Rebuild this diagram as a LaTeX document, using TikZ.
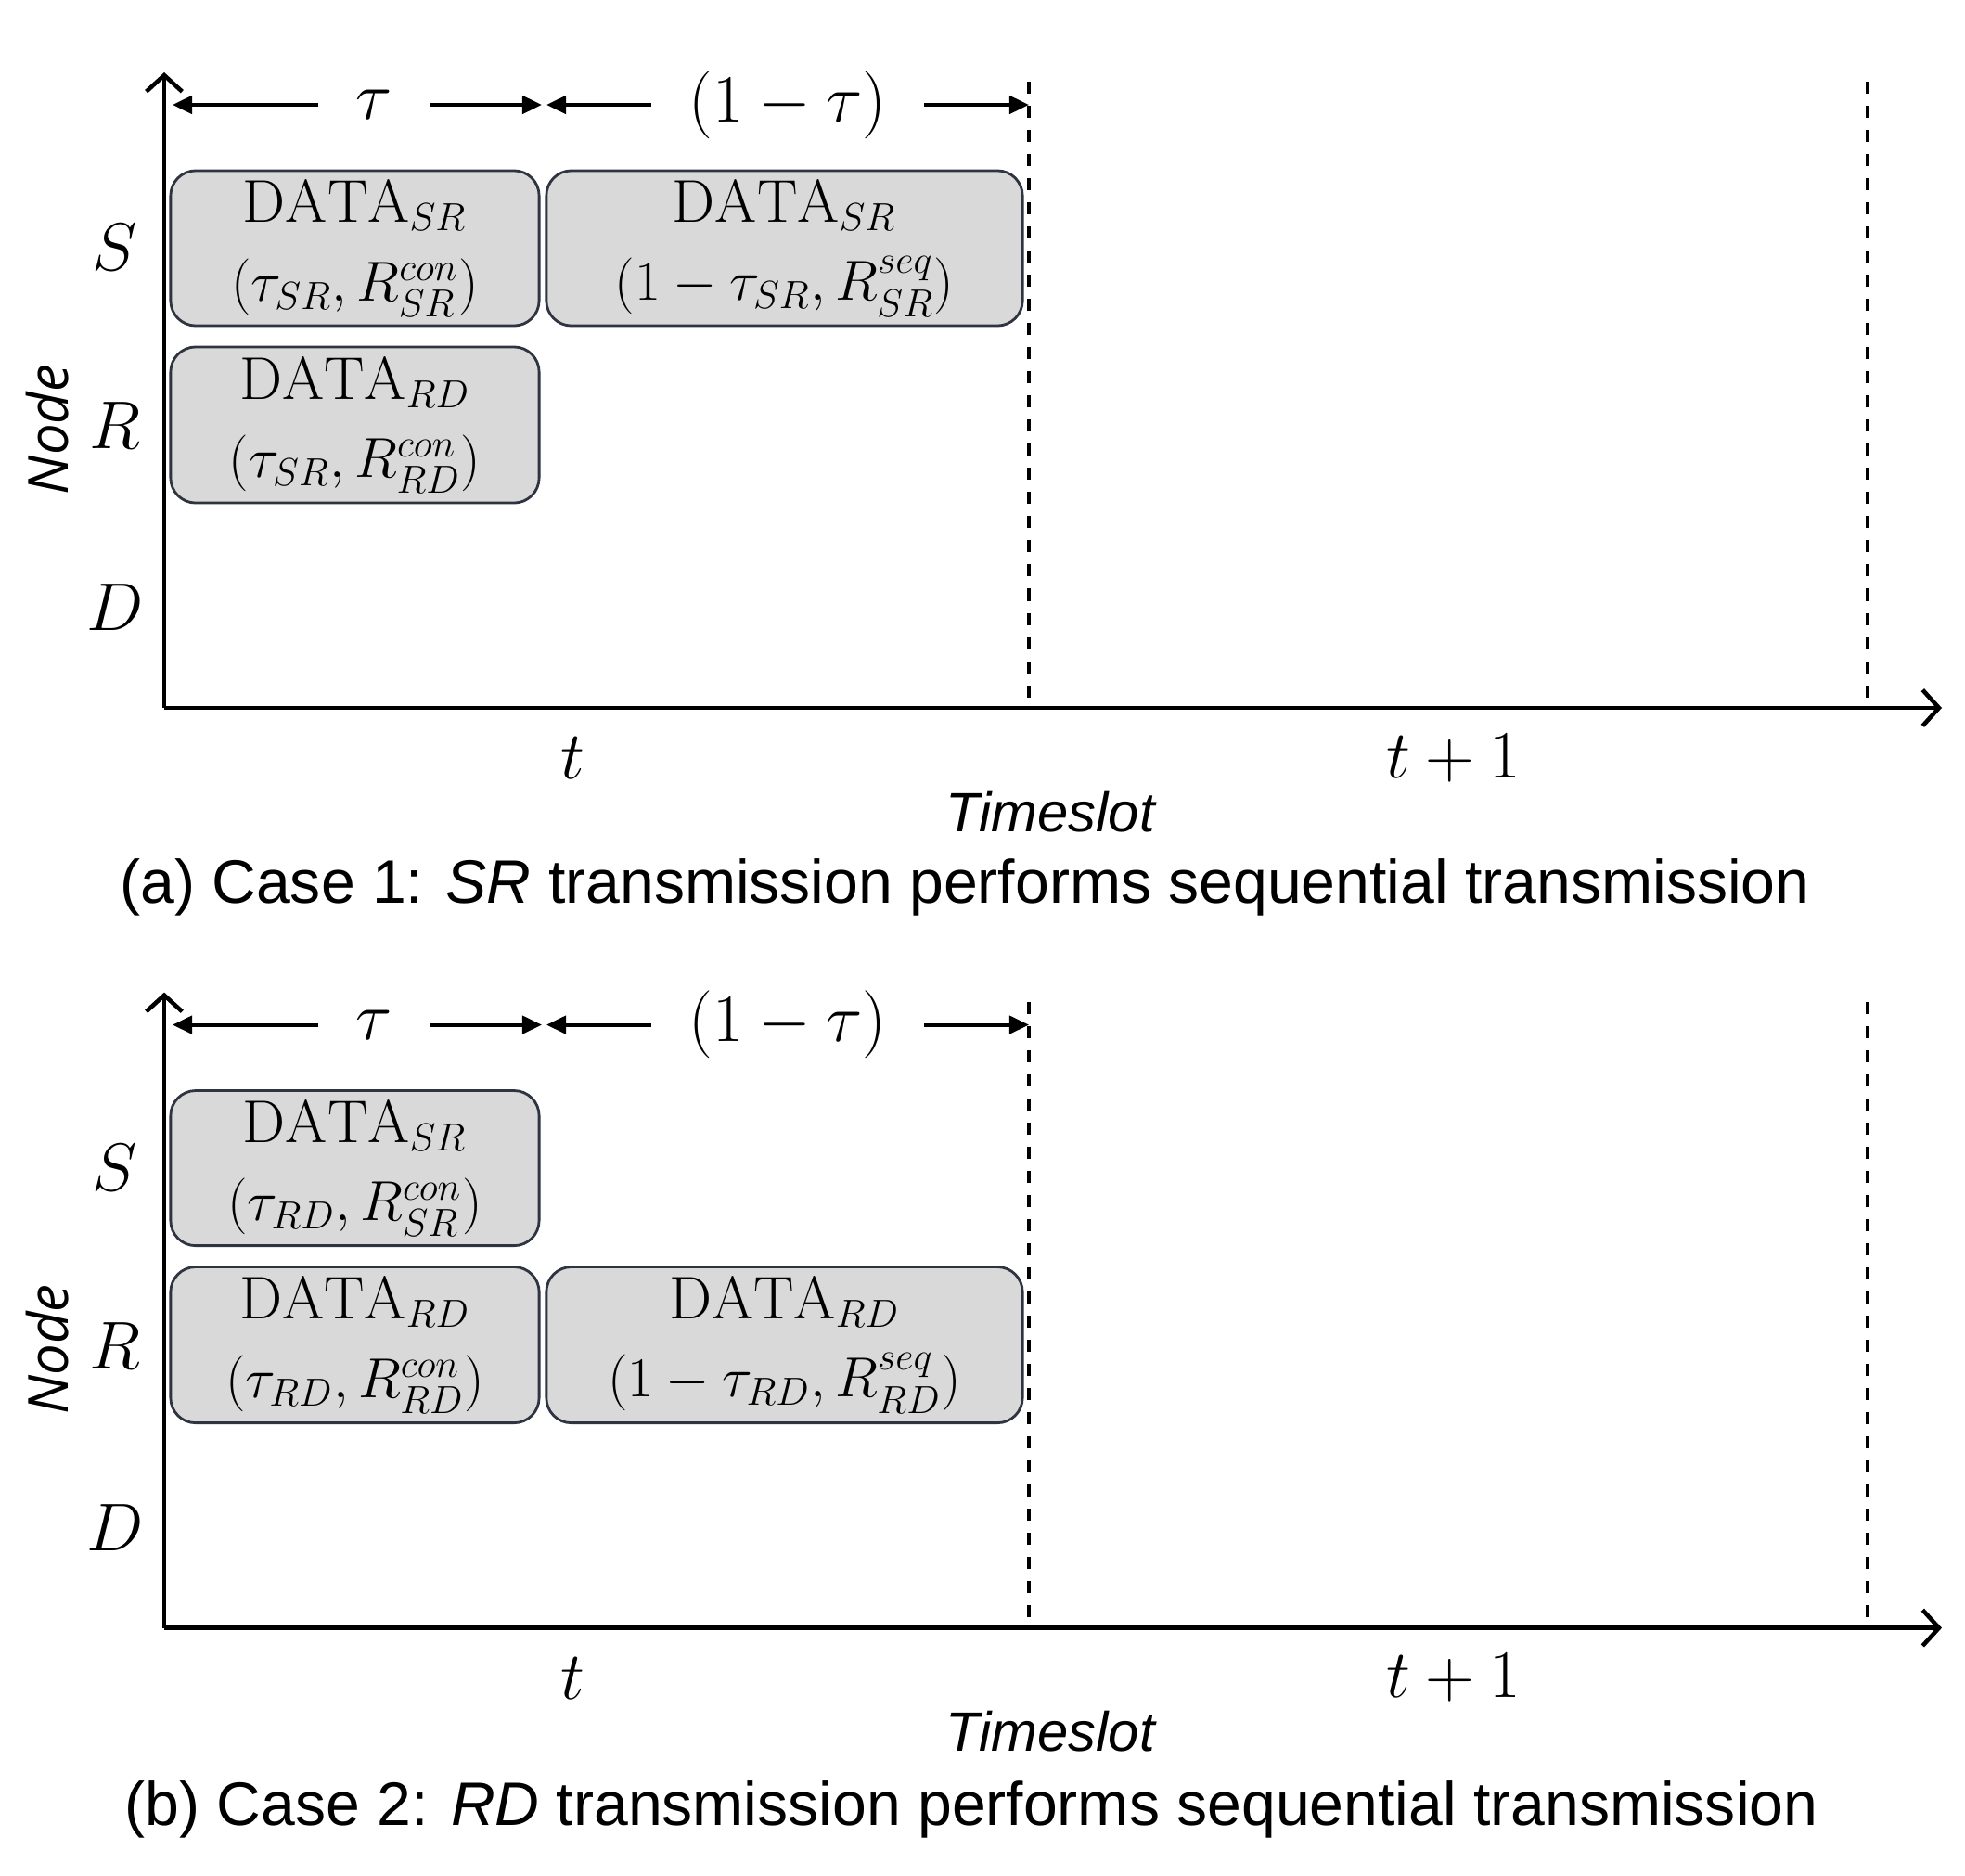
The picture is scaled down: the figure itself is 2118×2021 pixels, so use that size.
\documentclass[tikz,border=0pt]{standalone}
\usepackage{amsmath, amssymb}
\usepackage{fontspec}
\newfontfamily\capfont{Liberation Sans}
\newfontfamily\axfont{Open Sans}
\usepackage{tikz}
\usetikzlibrary{arrows.meta, positioning}
\definecolor{boxgray}{HTML}{D9D9D9}
\definecolor{boxedge}{HTML}{2E3440}

\begin{document}
\begin{tikzpicture}[x=0.01cm, y=-0.01cm,
    axis/.style={line width=1.3pt, -{Straight Barb[length=5pt, width=11pt, line width=1.3pt]}},
    slotline/.style={line width=0.9pt, dash pattern=on 3.7pt off 3.7pt},
    dimarrow/.style={line width=1.1pt, {Triangle[length=6pt, width=5.5pt]}-{Triangle[length=6pt, width=5.5pt]}},
    dimlabel/.style={fill=white, inner xsep=0.4cm, inner ysep=0pt, font=\fontsize{20}{23}\selectfont},
    databox/.style={draw=boxedge, fill=boxgray, line width=0.8pt, rounded corners=0.27cm,
        align=center, inner sep=0pt, font=\fontsize{18.5}{24}\selectfont},
    rowlabel/.style={font=\fontsize{20}{23}\selectfont},
    slotlabel/.style={font=\fontsize{21}{24}\selectfont},
    axlabel/.style={font=\capfont\itshape\fontsize{17}{20}\selectfont},
    caption/.style={font=\capfont\fontsize{18.8}{23}\selectfont}]
    \useasboundingbox (0,0) rectangle (2118,2021);

    % (a) Case 1
    \coordinate (aO) at (177,763);
    \coordinate (aY) at (177,78);
    \coordinate (aX) at (2093,763);
    \draw[axis] (aO) -- (aY);
    \draw[axis] (aO) -- (aX);
    \draw[slotline] (1109,88) -- (1109,752);
    \draw[slotline] (2013,88) -- (2013,752);
    \coordinate (aA) at (186,113);
    \coordinate (aB) at (584,113);
    \coordinate (aC) at (589,113);
    \coordinate (aD) at (1109,113);
    \draw[dimarrow] (aA) -- node[dimlabel, pos=0.545] {$\tau$} (aB);
    \draw[dimarrow] (aC) -- node[dimlabel] {$(1-\tau)$} (aD);
    \node[databox, minimum width=3.97cm, minimum height=1.67cm] (aSR1) at (382.5,267.5)
        {$\mathrm{DATA}_{SR}$\\$(\tau_{SR}, R_{SR}^{con})$};
    \node[databox, minimum width=5.13cm, minimum height=1.67cm] (aSR2) at (845.5,267.5)
        {$\mathrm{DATA}_{SR}$\\$(1-\tau_{SR}, R_{SR}^{seq})$};
    \node[databox, minimum width=3.97cm, minimum height=1.68cm] (aRD1) at (382.5,458)
        {$\mathrm{DATA}_{RD}$\\$(\tau_{SR}, R_{RD}^{con})$};
    \node[rowlabel] (aS) at (124,267) {$S$};
    \node[rowlabel] (aR) at (124,459) {$R$};
    \node[rowlabel] (aDn) at (124,655) {$D$};
    \node[font=\axfont\itshape\fontsize{17}{20}\selectfont, rotate=90] (aNode) at (51,463) {Node};
    \node[slotlabel] (at1) at (617,817) {$t$};
    \node[slotlabel] (at2) at (1567,817) {$t+1$};
    \node[axlabel] (aTs) at (1132,875) {Timeslot};
    \node[caption] (aCap) at (1040,956) {(a) Case 1: \textit{SR} transmission performs sequential transmission};

    % (b) Case 2
    \begin{scope}[yshift=-9.91cm]
    \coordinate (bO) at (177,763);
    \coordinate (bY) at (177,78);
    \coordinate (bX) at (2093,763);
    \draw[axis] (bO) -- (bY);
    \draw[axis] (bO) -- (bX);
    \draw[slotline] (1109,88) -- (1109,752);
    \draw[slotline] (2013,88) -- (2013,752);
    \coordinate (bA) at (186,113);
    \coordinate (bB) at (584,113);
    \coordinate (bC) at (589,113);
    \coordinate (bD) at (1109,113);
    \draw[dimarrow] (bA) -- node[dimlabel, pos=0.545] {$\tau$} (bB);
    \draw[dimarrow] (bC) -- node[dimlabel] {$(1-\tau)$} (bD);
    \node[databox, minimum width=3.97cm, minimum height=1.67cm] (bSR1) at (382.5,267.5)
        {$\mathrm{DATA}_{SR}$\\$(\tau_{RD}, R_{SR}^{con})$};
    \node[databox, minimum width=3.97cm, minimum height=1.68cm] (bRD1) at (382.5,458)
        {$\mathrm{DATA}_{RD}$\\$(\tau_{RD}, R_{RD}^{con})$};
    \node[databox, minimum width=5.13cm, minimum height=1.68cm] (bRD2) at (845.5,458)
        {$\mathrm{DATA}_{RD}$\\$(1-\tau_{RD}, R_{RD}^{seq})$};
    \node[rowlabel] (bS) at (124,267) {$S$};
    \node[rowlabel] (bR) at (124,459) {$R$};
    \node[rowlabel] (bDn) at (124,655) {$D$};
    \node[font=\axfont\itshape\fontsize{17}{20}\selectfont, rotate=90] (bNode) at (51,463) {Node};
    \node[slotlabel] (bt1) at (617,817) {$t$};
    \node[slotlabel] (bt2) at (1567,817) {$t+1$};
    \node[axlabel] (bTs) at (1132,875) {Timeslot};
    \node[caption] (bCap) at (1047,959) {(b) Case 2: \textit{RD} transmission performs sequential transmission};
    \end{scope}
\end{tikzpicture}
\end{document}
